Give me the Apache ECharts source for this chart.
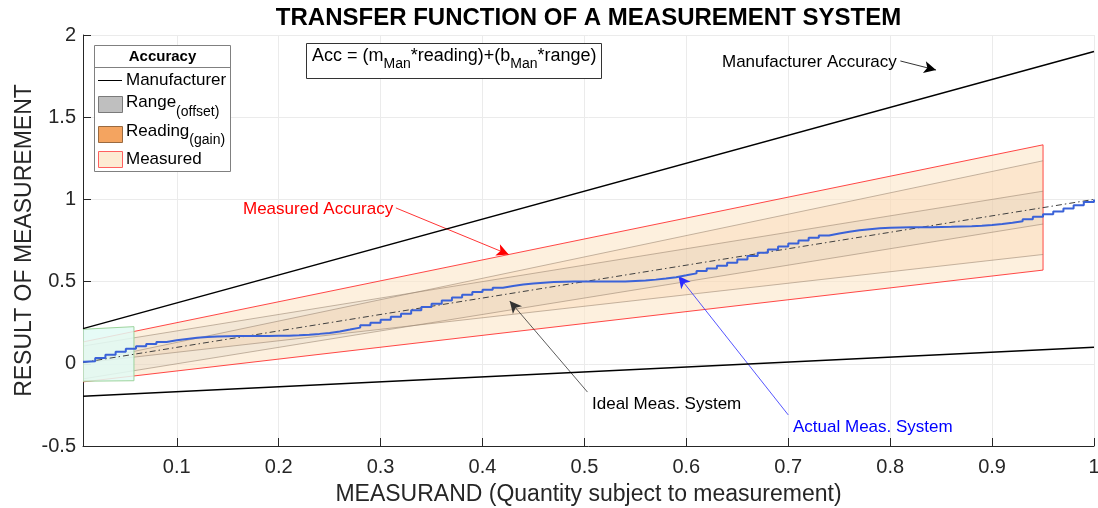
<!DOCTYPE html>
<html><head><meta charset="utf-8">
<script src="https://cdn.jsdelivr.net/npm/echarts@6/dist/echarts.min.js"></script>
<style>html,body{margin:0;padding:0;background:#fff;overflow:hidden}#c{width:1098px;height:508px}</style>
</head><body><div id="c"></div>
<script>
const FONT = '"Liberation Sans", Arial, Helvetica, sans-serif';

// ---- data ----
const xTicks = [0.1, 0.2, 0.3, 0.4, 0.5, 0.6, 0.7, 0.8, 0.9, 1];
const yTicks = [-0.5, 0, 0.5, 1, 1.5, 2];

const lineX = [0.008, 1];
const manufacturerUpper = [0.214, 1.9];
const manufacturerLower = [-0.198, 0.1];
const idealY = [0.008, 1];

const bandX = [0.008, 0.95];
const measuredUpper = [0.133, 1.332];
const measuredLower = [-0.11, 0.57];
const readingUpper = [0.0104, 1.235];
const readingLower = [0.0056, 0.665];
const rangeUpper = [0.108, 1.05];
const rangeLower = [-0.092, 0.85];

const zeroBoxX = [0.008, 0.058];
const zeroBoxUpper = [0.21, 0.226];
const zeroBoxLower = [-0.106, -0.103];

// actual (sampled & held) measurement system output
const actualX = [0.008, 0.01, 0.02, 0.03, 0.04, 0.05, 0.06, 0.07, 0.08, 0.09,
  0.10, 0.11, 0.12, 0.13, 0.14, 0.15, 0.16, 0.17, 0.18, 0.19,
  0.20, 0.21, 0.22, 0.23, 0.24, 0.25, 0.26, 0.27, 0.28, 0.29,
  0.30, 0.31, 0.32, 0.33, 0.34, 0.35, 0.36, 0.37, 0.38, 0.39,
  0.40, 0.41, 0.42, 0.43, 0.44, 0.45, 0.46, 0.47, 0.48, 0.49,
  0.50, 0.51, 0.52, 0.53, 0.54, 0.55, 0.56, 0.57, 0.58, 0.59,
  0.60, 0.61, 0.62, 0.63, 0.64, 0.65, 0.66, 0.67, 0.68, 0.69,
  0.70, 0.71, 0.72, 0.73, 0.74, 0.75, 0.76, 0.77, 0.78, 0.79,
  0.80, 0.81, 0.82, 0.83, 0.84, 0.85, 0.86, 0.87, 0.88, 0.89,
  0.90, 0.91, 0.92, 0.93, 0.94, 0.95, 0.96, 0.97, 0.98, 0.99, 1.00];
const actualY = [0.012, 0.016, 0.036, 0.055, 0.074, 0.091, 0.106, 0.120, 0.133, 0.143,
  0.151, 0.158, 0.163, 0.166, 0.168, 0.169, 0.169, 0.169, 0.169, 0.170,
  0.171, 0.173, 0.177, 0.182, 0.188, 0.197, 0.208, 0.220, 0.234, 0.250,
  0.268, 0.286, 0.305, 0.325, 0.345, 0.365, 0.385, 0.403, 0.420, 0.436,
  0.450, 0.463, 0.473, 0.482, 0.488, 0.493, 0.497, 0.499, 0.500, 0.500,
  0.500, 0.500, 0.500, 0.501, 0.504, 0.507, 0.512, 0.519, 0.527, 0.538,
  0.550, 0.564, 0.580, 0.597, 0.615, 0.635, 0.655, 0.675, 0.695, 0.714,
  0.732, 0.750, 0.766, 0.780, 0.792, 0.803, 0.812, 0.819, 0.824, 0.827,
  0.829, 0.830, 0.831, 0.831, 0.832, 0.833, 0.835, 0.837, 0.840, 0.845,
  0.851, 0.858, 0.867, 0.880, 0.894, 0.909, 0.927, 0.945, 0.964, 0.984, 1.000];

const arrowFrom = [[0.810, 1.842], [0.315, 0.948], [0.503, -0.172], [0.700, -0.311]];
const arrowTo   = [[0.845, 1.787], [0.4257, 0.665], [0.4267, 0.382], [0.5923, 0.534]];
const arrowColors = ['#000000', '#ff0000', '#333333', '#2a2aff'];

// ---- helpers ----
const mctx = document.createElement('canvas').getContext('2d');
function tw(t, size, weight) { mctx.font = (weight || 'normal') + ' ' + size + 'px ' + FONT; return mctx.measureText(t).width; }

function band(name, xs, up, lo, fill, edge, edgeAll, z) {
  return {
    type: 'custom', name: name, z: z, clip: true, silent: true, animation: false,
    data: [[xs[0], xs[1], up[0], up[1], lo[0], lo[1]]],
    encode: { x: [0, 1], y: [2, 3, 4, 5] },
    renderItem: function (params, api) {
      const a = api.coord([api.value(0), api.value(2)]);
      const b = api.coord([api.value(1), api.value(3)]);
      const c = api.coord([api.value(1), api.value(5)]);
      const d = api.coord([api.value(0), api.value(4)]);
      const children = [{ type: 'polygon', shape: { points: [a, b, c, d] },
        style: { fill: fill, stroke: edgeAll ? edge : null, lineWidth: 1 } }];
      if (!edgeAll && edge) {
        children.push({ type: 'polyline', shape: { points: [a, b] }, style: { stroke: edge, lineWidth: 1, fill: null } });
        children.push({ type: 'polyline', shape: { points: [d, c] }, style: { stroke: edge, lineWidth: 1, fill: null } });
      }
      return { type: 'group', children: children };
    }
  };
}

function pairs(xs, ys) { return xs.map((x, i) => [x, ys[i]]); }

// ---- text graphics ----
const graphics = [];
function txt(t, x, y, size, opts) {
  opts = opts || {};
  graphics.push({ type: 'text', x: x, y: y, silent: true, z: 100,
    style: { text: t, fill: opts.color || '#000', font: (opts.weight || 'normal') + ' ' + size + 'px ' + FONT,
      align: opts.align || 'left', verticalAlign: 'middle' } });
  return tw(t, size, opts.weight);
}
// title
txt('TRANSFER FUNCTION OF A MEASUREMENT SYSTEM', 588.5, 18, 24, { weight: 'bold', align: 'center' });
// legend box
graphics.push({ type: 'rect', shape: { x: 94.5, y: 45.5, width: 136, height: 126 }, z: 99,
  style: { fill: '#ffffff', stroke: '#808080', lineWidth: 1 } });
graphics.push({ type: 'line', shape: { x1: 94.5, y1: 67.5, x2: 230.5, y2: 67.5 }, z: 100, style: { stroke: '#808080', lineWidth: 1 } });
txt('Accuracy', 162.5, 57, 15, { weight: 'bold', align: 'center' });
graphics.push({ type: 'line', shape: { x1: 98, y1: 80.5, x2: 122, y2: 80.5 }, z: 100, style: { stroke: '#000', lineWidth: 1 } });
txt('Manufacturer', 126, 80, 17);
graphics.push({ type: 'rect', shape: { x: 98.5, y: 96.5, width: 24, height: 16 }, z: 100, style: { fill: '#bfbfbf', stroke: '#7a7a7a', lineWidth: 1 } });
let w = txt('Range', 126, 102, 17);
txt('(offset)', 126 + w, 112, 14);
graphics.push({ type: 'rect', shape: { x: 98.5, y: 126.5, width: 24, height: 16 }, z: 100, style: { fill: '#f4a460', stroke: '#9a6a40', lineWidth: 1 } });
w = txt('Reading', 126, 131, 17);
txt('(gain)', 126 + w, 140, 14);
graphics.push({ type: 'rect', shape: { x: 98.5, y: 151.5, width: 24, height: 16 }, z: 100, style: { fill: '#fdebd3', stroke: '#ff6060', lineWidth: 1 } });
txt('Measured', 126, 159, 17);
// formula box
graphics.push({ type: 'rect', shape: { x: 306.5, y: 43.5, width: 295, height: 35 }, z: 99, style: { fill: '#ffffff', stroke: '#333', lineWidth: 1 } });
let fx = 312;
fx += txt('Acc = (m', fx, 56, 18);
fx += txt('Man', fx, 64, 14);
fx += txt('*reading)+(b', fx, 56, 18);
fx += txt('Man', fx, 64, 14);
txt('*range)', fx, 56, 18);
// annotation labels
txt('Manufacturer Accuracy', 722, 62.5, 17);
txt('Measured Accuracy', 243, 209, 17, { color: '#ff0000' });
txt('Ideal Meas. System', 592, 404, 17);
txt('Actual Meas. System', 793, 427.5, 17, { color: '#0000ff' });

const axisColor = '#262626';
const option = {
  animation: false,
  backgroundColor: '#ffffff',
  grid: { left: 83, right: 4, top: 35, bottom: 62, containLabel: false, outerBoundsMode: 'none' },
  xAxis: {
    type: 'value', min: 0.008, max: 1, splitNumber: 10,
    name: 'MEASURAND (Quantity subject to measurement)', nameLocation: 'middle', nameGap: 37, nameMoveOverlap: false,
    nameTextStyle: { fontSize: 23, color: axisColor, fontFamily: FONT },
    axisLine: { show: true, onZero: false, lineStyle: { color: axisColor, width: 1 } },
    axisTick: { show: true, inside: true, length: 8, customValues: xTicks, lineStyle: { color: axisColor } },
    axisLabel: { customValues: xTicks, fontSize: 20, color: axisColor, fontFamily: FONT, margin: 11, formatter: v => String(v) },
    splitLine: { show: true, lineStyle: { color: '#ebebeb', width: 1 } }
  },
  yAxis: {
    type: 'value', min: -0.5, max: 2, interval: 0.5,
    name: 'RESULT OF MEASUREMENT', nameLocation: 'middle', nameGap: 47, nameMoveOverlap: false,
    nameTextStyle: { fontSize: 23, color: axisColor, fontFamily: FONT },
    axisLine: { show: true, onZero: false, lineStyle: { color: axisColor, width: 1 } },
    axisTick: { show: true, inside: true, length: 8, lineStyle: { color: axisColor } },
    axisLabel: { fontSize: 20, color: axisColor, fontFamily: FONT, margin: 7, formatter: v => String(v) },
    splitLine: { show: true, lineStyle: { color: '#ebebeb', width: 1 } }
  },
  graphic: graphics,
  series: [
    band('Measured', bandX, measuredUpper, measuredLower, 'rgba(252,230,200,0.6)', 'rgba(255,40,40,0.85)', true, 1),
    band('Reading', bandX, readingUpper, readingLower, 'rgba(244,164,96,0.13)', 'rgba(150,130,110,0.55)', false, 2),
    band('Range', bandX, rangeUpper, rangeLower, 'rgba(128,128,128,0.08)', 'rgba(150,130,110,0.55)', false, 3),
    band('Zero', zeroBoxX, zeroBoxUpper, zeroBoxLower, 'rgba(226,250,244,0.85)', '#9dd49d', true, 4),
    { type: 'line', name: 'Manufacturer upper', z: 5, data: pairs(lineX, manufacturerUpper), symbol: 'none',
      lineStyle: { color: '#000', width: 1.5 }, silent: true,
      markLine: { silent: true, animation: false, symbol: ['none', 'arrow'], symbolSize: [9, 12], label: { show: false },
        data: arrowFrom.map((f, i) => [
          { coord: f, lineStyle: { color: arrowColors[i], width: 0.8, type: 'solid' }, itemStyle: { color: arrowColors[i] } },
          { coord: arrowTo[i] }
        ]) } },
    { type: 'line', name: 'Manufacturer lower', z: 5, data: pairs(lineX, manufacturerLower), symbol: 'none',
      lineStyle: { color: '#000', width: 1.5 }, silent: true },
    { type: 'line', name: 'Ideal', z: 6, data: pairs(lineX, idealY), symbol: 'none', silent: true,
      lineStyle: { color: '#404040', width: 1, type: [6, 3, 1.5, 3] } },
    { type: 'line', name: 'Actual', z: 7, data: pairs(actualX, actualY), symbol: 'none', step: 'end', silent: true,
      lineStyle: { color: '#3a62d8', width: 2 } }
  ]
};
const chart = echarts.init(document.getElementById('c'), null, { renderer: 'canvas' });
chart.setOption(option);
</script></body></html>
